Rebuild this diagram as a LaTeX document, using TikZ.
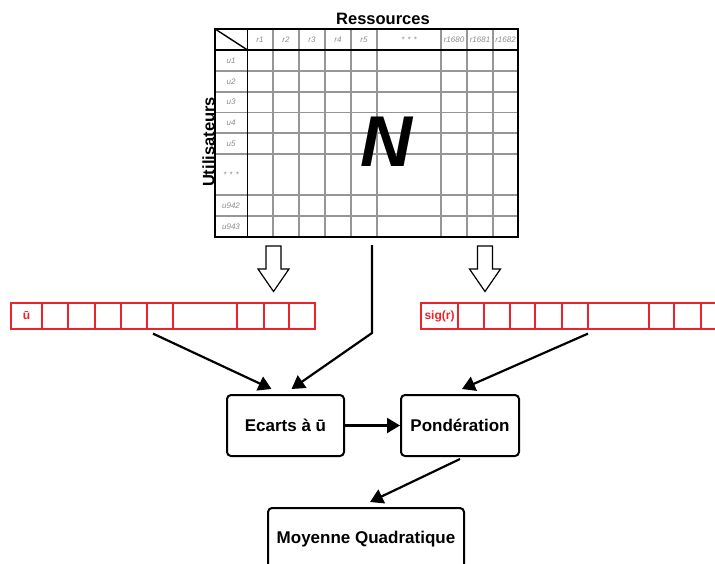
\documentclass[tikz,border=0pt]{standalone}
\usepackage{fontspec}
\setmainfont{Liberation Sans}
\usetikzlibrary{arrows.meta}
\definecolor{barred}{RGB}{235,35,45}
\definecolor{gridgray}{RGB}{150,150,150}
\definecolor{labelgray}{RGB}{140,140,140}

\begin{document}
\begin{tikzpicture}[x=1pt,y=-1pt,
    stepbox/.style={draw,line width=2pt,rounded corners=4pt,inner sep=0pt,
      font=\bfseries\fontsize{17}{19}\selectfont},
    flow/.style={line width=2.2pt,-{Triangle[width=15pt,length=13pt]}},
    celllabel/.style={font=\itshape\fontsize{8}{9}\selectfont,text=labelgray,inner sep=0pt},
    barlabel/.style={font=\bfseries\fontsize{12}{13}\selectfont,text=barred,inner sep=0pt}]

    \useasboundingbox (0,0) rectangle (715,563);

    % Matrix N (users x resources)
    \node[minimum width=303pt,minimum height=208pt,inner sep=0pt] (matN) at (366.5,133) {};
    \foreach \x in {273,299,325,351,377,441,467,493} {
      \draw[gridgray,line width=1.2pt] (\x,29) -- (\x,237);
    }
    \foreach \y in {71,92,112.5,133,154,195,216} {
      \draw[gridgray,line width=1.2pt] (215,\y) -- (518,\y);
    }
    \draw[line width=1.6pt] (matN.north west) rectangle (matN.south east);
    \draw[line width=1.6pt] (247.5,29) -- (247.5,237);
    \draw[line width=1.6pt] (215,50) -- (518,50);
    \draw[line width=1.4pt] (matN.north west) -- (247.5,50);

    % Column and row headers
    \foreach \x/\lab in {260/r1,286/r2,312/r3,338/r4,364/r5,409/{*\hspace{3pt}*\hspace{3pt}*},454/r1680,480/r1681,505.5/r1682} {
      \node[celllabel] at (\x,39.5) {\lab};
    }
    \foreach \y/\lab in {60.5/u1,81.5/u2,102/u3,122.7/u4,143.5/u5,174.5/{*\hspace{3pt}*\hspace{3pt}*},205.5/u942,226.5/u943} {
      \node[celllabel] at (231,\y) {\lab};
    }
    \node[font=\bfseries\itshape\fontsize{72}{72}\selectfont,inner sep=0pt] (bigN) at (386,142) {N};

    % Axis titles
    \node[font=\bfseries\fontsize{16.5}{18}\selectfont,inner sep=0pt] (resTitle) at (383,19) {Ressources};
    \node[font=\bfseries\fontsize{16.5}{18}\selectfont,inner sep=0pt,rotate=90] (userTitle) at (208.5,142) {Utilisateurs};

    % Hollow arrows down to the two vectors
    \foreach \c in {273.5,485} {
      \draw[line width=1.2pt,fill=white] (\c-7.5,246) -- (\c+7.5,246) -- (\c+7.5,269) -- (\c+15.5,269)
        -- (\c,291.5) -- (\c-15.5,269) -- (\c-7.5,269) -- cycle;
    }

    % Vector of user means
    \node[draw=barred,line width=1.2pt,minimum width=304pt,minimum height=26pt,inner sep=0pt] (ubar) at (163,316) {};
    \foreach \x in {42,68,95,121,147,173,237,264,289} {
      \draw[barred,line width=1.2pt] (\x,303) -- (\x,329);
    }
    \node[barlabel] (ulab) at (26.5,316) {ū};

    % Vector of sigma per resource
    \node[draw=barred,line width=1.2pt,minimum width=306pt,minimum height=26pt,inner sep=0pt] (sigbar) at (574,316) {};
    \foreach \x in {458,484,510,535,562,588,649,674,701} {
      \draw[barred,line width=1.2pt] (\x,303) -- (\x,329);
    }
    \node[barlabel] (siglab) at (439.5,316) {sig(r)};

    % Processing steps
    \node[stepbox,minimum width=117pt,minimum height=61pt] (ecarts) at (285.5,425.5) {Ecarts à ū};
    \node[stepbox,minimum width=118pt,minimum height=61pt] (pond) at (460,425.5) {Pondération};
    \node[stepbox,minimum width=196pt,minimum height=62pt] (moyenne) at (366,539) {Moyenne Quadratique};

    % Connectors
    \coordinate (matOut) at (372,245);
    \coordinate (matBend) at (372,333);
    \draw[flow] ([xshift=-10pt,yshift=-4pt]ubar.south) -- ([xshift=-14pt,yshift=5pt]ecarts.north);
    \draw[flow] (matOut) -- (matBend) -- ([xshift=6pt,yshift=5pt]ecarts.north);
    \draw[flow] ([xshift=14pt,yshift=-4pt]sigbar.south) -- ([xshift=2pt,yshift=5pt]pond.north);
    \draw[flow] (ecarts.east) -- (pond.west);
    \draw[flow] ([yshift=-2pt]pond.south) -- ([xshift=4pt,yshift=5pt]moyenne.north);
\end{tikzpicture}
\end{document}
